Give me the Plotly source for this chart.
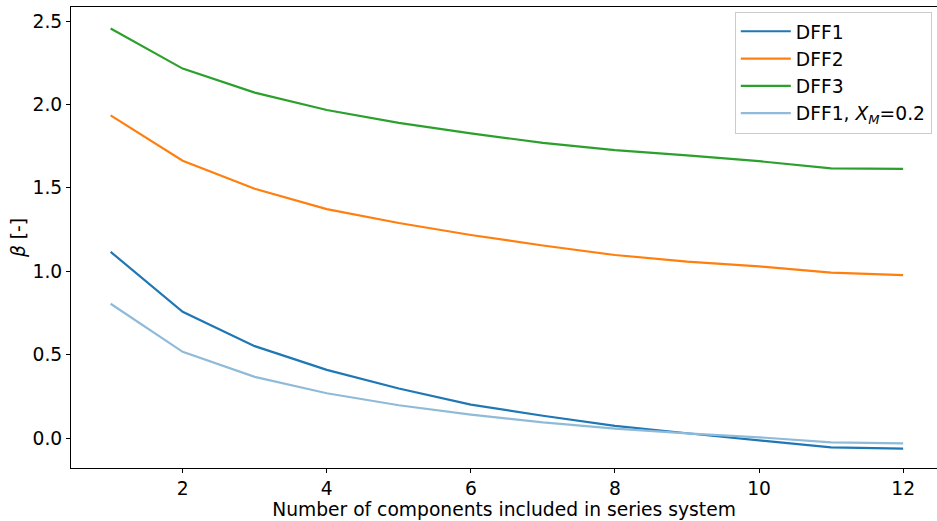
import plotly.graph_objects as go

n_components = [1, 2, 3, 4, 5, 6, 7, 8, 9, 10, 11, 12]
dff1 = [1.117, 0.758, 0.552, 0.410, 0.298, 0.202, 0.135, 0.074, 0.030, -0.010, -0.054, -0.062]
dff2 = [1.935, 1.663, 1.495, 1.373, 1.290, 1.218, 1.155, 1.098, 1.058, 1.030, 0.992, 0.978]
dff3 = [2.455, 2.215, 2.071, 1.967, 1.890, 1.827, 1.770, 1.727, 1.695, 1.660, 1.617, 1.614]
dff1_xm = [0.806, 0.518, 0.368, 0.270, 0.198, 0.142, 0.095, 0.058, 0.030, 0.006, -0.024, -0.030]

series = [
    ("DFF1", dff1, "#1f77b4"),
    ("DFF2", dff2, "#ff7f0e"),
    ("DFF3", dff3, "#2ca02c"),
    ("DFF1, <i>X</i><sub><i>M</i></sub>=0.2", dff1_xm, "#8fbbd9"),
]

fig = go.Figure()
for name, vals, color in series:
    fig.add_trace(go.Scatter(x=n_components, y=vals, mode="lines", name=name,
                             line=dict(color=color, width=2.2)))

font = "DejaVu Sans, Arial, sans-serif"
fs = 18.7
fig.update_layout(
    width=937, height=521,
    margin=dict(l=71, r=0, t=7, b=53),
    paper_bgcolor="white", plot_bgcolor="white",
    font=dict(family=font, size=fs, color="black"),
    showlegend=True,
    legend=dict(x=0.994, y=0.99, xanchor="right", yanchor="top",
                bgcolor="white", bordercolor="#cccccc", borderwidth=1,
                itemwidth=50, font=dict(size=fs)),
    xaxis=dict(range=[0.45, 12.47], tickmode="array", tickvals=[2, 4, 6, 8, 10, 12],
               showgrid=False, zeroline=False, showline=True, linecolor="black",
               linewidth=1, mirror=True, ticks="outside", ticklen=4, tickcolor="black",
               tickfont=dict(size=fs), automargin=False,
               title=dict(text="Number of components included in series system",
                          font=dict(size=fs), standoff=0)),
    yaxis=dict(range=[-0.178, 2.584], tickmode="array", tickvals=[0, 0.5, 1, 1.5, 2, 2.5],
               ticktext=["0.0", "0.5", "1.0", "1.5", "2.0", "2.5"],
               showgrid=False, zeroline=False, showline=True, linecolor="black",
               linewidth=1, mirror=False, ticks="outside", ticklen=4, tickcolor="black",
               tickfont=dict(size=fs), automargin=False,
               title=dict(text="<i>β</i> [-]", font=dict(size=fs), standoff=1)),
)

fig.write_html("out.html", config={"displayModeBar": False},
               post_script="document.body.style.margin='0';document.body.style.padding='0';")
